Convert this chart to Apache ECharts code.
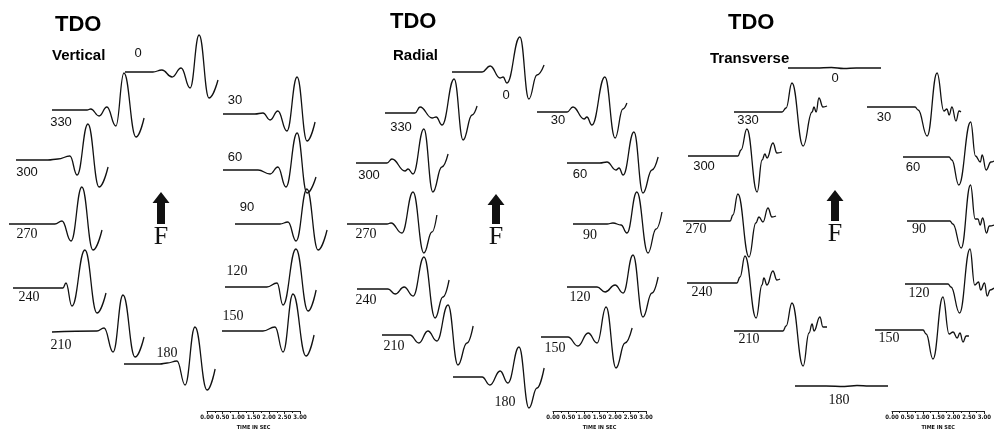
<!DOCTYPE html>
<html><head><meta charset="utf-8">
<script src="https://cdn.jsdelivr.net/npm/echarts@6/dist/echarts.min.js"></script>
<style>html,body{margin:0;padding:0;background:#fff}#c{width:994px;height:434px}</style>
</head><body><div id="c"></div>
<script>
// ---------- DATA (time in s, amplitude in arbitrary units) ----------
const azimuths = [0, 30, 60, 90, 120, 150, 180, 210, 240, 270, 300, 330];
const panelTitles = ['TDO', 'TDO', 'TDO'];
const componentNames = ['Vertical', 'Radial', 'Transverse'];
const scaleTicks = [0, 0.5, 1, 1.5, 2, 2.5, 3];
const scaleName = 'TIME IN SEC';

// Vertical component
const V0   = [[0,0],[0.9,0],[1.19,2],[1.52,-5],[1.81,4],[2.1,-16],[2.39,37],[2.71,-26],[3.0,-8]];
const V30  = [[0,0],[1.03,0],[1.29,1],[1.52,-6],[1.77,3],[2.06,-17],[2.39,37],[2.71,-27],[2.97,-8]];
const V60  = [[0,0],[1.13,0],[1.52,-4],[1.77,3],[2.03,-17],[2.39,37],[2.71,-23],[3.0,-7]];
const V90  = [[0,0],[1.45,0],[1.71,2],[1.97,-17],[2.32,35],[2.68,-26],[2.97,-6]];
const V120 = [[0,0],[1.35,0],[1.68,4],[1.87,-18],[2.29,38],[2.68,-24],[2.94,-3]];
const V150 = [[0,0],[1.32,0],[1.71,4],[1.97,-21],[2.29,37],[2.71,-25],[2.97,-4]];
const V180 = [[0,0],[1.16,0],[1.39,1],[1.71,3],[1.97,-21],[2.29,37],[2.68,-26],[2.94,-5]];
const V210 = [[0,0],[1.45,1],[1.68,4],[1.97,-20],[2.29,37],[2.68,-25],[2.97,-5]];
const V240 = [[0,0],[1.61,0],[1.71,5],[1.9,-18],[2.32,38],[2.71,-25],[3.0,-5]];
const V270 = [[0,0],[1.48,0],[1.71,3],[2.0,-17],[2.35,37],[2.71,-26],[3.0,-6]];
const V300 = [[0,0],[1.03,0],[1.35,1],[1.74,4],[1.97,-15],[2.32,36],[2.68,-27],[2.97,-7]];
const V330 = [[0,0],[1.13,0],[1.25,1],[1.52,-6],[1.77,3],[2.06,-16],[2.32,37],[2.71,-27],[2.97,-8]];

// Radial component
const R0   = [[0,0],[0.97,0],[1.23,6],[1.55,-6],[1.65,-5],[1.77,-11],[2.19,35],[2.48,-27],[2.74,-3],[2.97,7]];
const R30  = [[0,0],[0.97,0],[1.16,5],[1.52,-7],[1.61,-5],[1.77,-13],[2.19,35],[2.52,-26],[2.77,3],[2.9,9]];
const R60  = [[0,0],[1.06,0],[1.29,1],[1.58,-7],[1.68,-5],[1.81,-12],[2.16,31],[2.45,-30],[2.74,-7],[2.94,6]];
const R90  = [[0,0],[1.1,0],[1.29,1],[1.55,-1],[1.74,-9],[2.06,32],[2.42,-29],[2.68,-5],[2.87,12]];
const R120 = [[0,0],[0.97,0],[1.23,-5],[1.55,2],[1.81,-6],[2.13,32],[2.45,-30],[2.74,-6],[2.94,10]];
const R150 = [[0,0],[0.87,0],[1.19,-9],[1.52,4],[1.81,-6],[2.1,30],[2.42,-31],[2.71,-6],[2.94,9]];
const R180 = [[0,0],[0.94,0],[1.19,-8],[1.52,6],[1.77,-6],[2.13,30],[2.45,-31],[2.71,-11],[2.94,9]];
const R210 = [[0,0],[0.9,0],[1.19,-8],[1.48,4],[1.77,-6],[2.13,30],[2.45,-30],[2.74,-8],[2.94,9]];
const R240 = [[0,0],[1.0,0],[1.23,-5],[1.52,2],[1.81,-7],[2.16,32],[2.52,-29],[2.77,-8],[2.97,9]];
const R270 = [[0,0],[1.29,0],[1.42,1],[1.77,-9],[2.13,32],[2.48,-29],[2.74,-8],[2.9,9]];
const R300 = [[0,0],[1.0,0],[1.16,4],[1.58,-8],[1.68,-6],[1.84,-11],[2.19,34],[2.48,-29],[2.77,-4],[2.97,9]];
const R330 = [[0,0],[0.97,0],[1.13,6],[1.52,-5],[1.65,-4],[1.84,-12],[2.23,34],[2.52,-27],[2.81,-2],[2.97,7]];

// Transverse component
const T0   = [[0,0],[0.9,0],[1.4,0.5],[1.8,-0.5],[2.2,0],[3.0,0]];
const T30  = [[0,0],[1.55,0],[1.65,-3],[1.94,-29],[2.26,34],[2.48,-4],[2.58,-2],[2.65,-8],[2.74,0],[2.87,-14],[2.97,-4],[3.03,-5]];
const T60  = [[0,0],[1.52,0],[1.61,-3],[1.84,-28],[2.23,35],[2.39,1],[2.55,-5],[2.61,2],[2.74,-13],[2.9,-5],[3.0,-4]];
const T90  = [[0,0],[1.48,0],[1.58,-3],[1.87,-27],[2.19,36],[2.35,2],[2.45,2],[2.52,-4],[2.61,3],[2.74,-12],[2.84,-5],[3.0,-4]];
const T120 = [[0,0],[1.45,0],[1.55,-3],[1.84,-29],[2.19,35],[2.35,-1],[2.48,2],[2.55,-6],[2.68,1],[2.77,-12],[2.87,-6],[3.0,-4]];
const T150 = [[0,0],[1.55,0],[1.65,-4],[1.87,-29],[2.19,33],[2.39,-4],[2.52,-2],[2.65,-8],[2.74,-3],[2.84,-12],[2.94,-6],[3.03,-6]];
const T180 = [[0,0],[1.0,0],[1.6,-0.5],[2.0,0.5],[2.4,0],[3.0,0]];
const T210 = [[0,0],[1.58,0],[1.68,5],[1.87,28],[2.23,-35],[2.42,-2],[2.52,7],[2.58,0],[2.77,14],[2.87,4],[3.0,4]];
const T240 = [[0,0],[1.61,0],[1.71,6],[1.87,27],[2.23,-35],[2.42,-2],[2.48,5],[2.58,-2],[2.77,12],[2.9,3],[3.0,4]];
const T270 = [[0,0],[1.52,0],[1.61,6],[1.77,27],[2.13,-36],[2.35,-2],[2.45,4],[2.58,-1],[2.74,13],[2.87,4],[3.0,5]];
const T300 = [[0,0],[1.61,0],[1.71,6],[1.9,27],[2.23,-36],[2.39,-4],[2.48,2],[2.55,-2],[2.74,13],[2.87,3],[3.03,4]];
const T330 = [[0,0],[1.55,0],[1.68,4],[1.87,29],[2.23,-34],[2.52,0],[2.58,5],[2.65,0],[2.74,14],[2.87,5],[3.0,6]];

const panelData = [
  [V0,V30,V60,V90,V120,V150,V180,V210,V240,V270,V300,V330],
  [R0,R30,R60,R90,R120,R150,R180,R210,R240,R270,R300,R330],
  [T0,T30,T60,T90,T120,T150,T180,T210,T240,T270,T300,T330]
];

// ---------- LAYOUT (pixels) ----------
const PX_PER_SEC = 31;
const traceOrigin = [ // [left, baseline y] per azimuth order
  [[125,72],[223,114],[223,170],[235,224],[225,287],[222,331],[124,364],[52,332],[13,288],[9,224],[16,160],[52,110]],
  [[452,72],[537,112],[567,163],[573,224],[567,287],[541,337],[453,377],[382,335],[357,289],[347,224],[356,163],[385,113]],
  [[788,68],[867,107],[903,157],[907,221],[905,284],[875,330],[795,388],[734,331],[687,283],[683,221],[688,156],[734,112]]
];
const labelPos = [
  [[138,53],[235,100],[235,157],[247,207],[237,271],[233,316],[167,353],[61,345],[29,297],[27,234],[27,172],[61,122]],
  [[506,95],[558,120],[580,174],[590,235],[580,297],[555,348],[505,402],[394,346],[366,300],[366,234],[369,175],[401,127]],
  [[835,78],[884,117],[913,167],[919,229],[919,293],[889,338],[839,400],[749,339],[702,292],[696,229],[704,166],[748,120]]
];
const titlePos = [[55,25],[390,22],[728,23]];
const subPos = [[52,56],[393,56],[710,59]];
const arrowPos = [[161,192,224],[496,194,224],[835,190,221]];
const scalePos = [[207,411],[553,411],[892,411]];

const grids = [], xAxes = [], yAxes = [], series = [], graphics = [];
const AMP = 50;
panelData.forEach((traces, p) => {
  traces.forEach((d, i) => {
    const [x0, by] = traceOrigin[p][i];
    const gi = grids.length;
    grids.push({left: x0, top: by - AMP, width: 3 * PX_PER_SEC, height: 2 * AMP});
    xAxes.push({type: 'value', gridIndex: gi, min: 0, max: 3, show: false});
    yAxes.push({type: 'value', gridIndex: gi, min: -AMP, max: AMP, show: false});
    series.push({
      type: 'line', xAxisIndex: gi, yAxisIndex: gi, data: d,
      showSymbol: false, smooth: 0.45, smoothMonotone: 'x', clip: false, silent: true,
      lineStyle: {color: '#111', width: 1.3}
    });
    const [lx, ly] = labelPos[p][i];
    const upper = [0, 30, 60, 300, 330].includes(azimuths[i]) || (p === 0 && azimuths[i] === 90);
    graphics.push({type: 'text', silent: true, style: {
      text: String(azimuths[i]), x: lx, y: ly, fill: '#111',
      font: upper ? '13px "Liberation Sans"' : '14px "Liberation Serif"',
      align: 'center', verticalAlign: 'middle', textAlign: 'center', textVerticalAlign: 'middle'
    }});
  });
  // scale bar
  const gi = grids.length;
  const [sx, sy] = scalePos[p];
  grids.push({left: sx, top: sy - 1, width: 3 * PX_PER_SEC, height: 1});
  xAxes.push({
    type: 'value', gridIndex: gi, min: scaleTicks[0], max: scaleTicks[scaleTicks.length - 1], interval: 0.5,
    axisLine: {lineStyle: {color: '#222', width: 1}},
    axisTick: {length: 3, lineStyle: {color: '#222'}},
    minorTick: {show: true, splitNumber: 2, length: 2, lineStyle: {color: '#222'}},
    splitLine: {show: false},
    axisLabel: {fontSize: 6, fontWeight: 'bold', fontFamily: 'DejaVu Sans Condensed', color: '#111', margin: 3,
      hideOverlap: false, showMinLabel: true, showMaxLabel: true,
      formatter: v => v.toFixed(2)},
    name: scaleName, nameLocation: 'middle', nameGap: 14,
    nameTextStyle: {fontSize: 5.5, fontWeight: 'bold', fontFamily: 'DejaVu Sans Condensed', color: '#111'}
  });
  yAxes.push({type: 'value', gridIndex: gi, show: false});
  // titles
  graphics.push({type: 'text', silent: true, style: {text: panelTitles[p], x: titlePos[p][0], y: titlePos[p][1],
    font: 'bold 22px "Liberation Sans"', fill: '#000', align: 'left', verticalAlign: 'middle', textAlign: 'left', textVerticalAlign: 'middle'}});
  graphics.push({type: 'text', silent: true, style: {text: componentNames[p], x: subPos[p][0], y: subPos[p][1],
    font: 'bold 15px "Liberation Sans"', fill: '#000', align: 'left', verticalAlign: 'middle', textAlign: 'left', textVerticalAlign: 'middle'}});
  // arrow F
  const [cx, ty, bt] = arrowPos[p];
  graphics.push({type: 'polygon', silent: true, shape: {points: [
    [cx, ty], [cx + 8.5, ty + 11], [cx + 4, ty + 11], [cx + 4, bt], [cx - 4, bt], [cx - 4, ty + 11], [cx - 8.5, ty + 11]
  ]}, style: {fill: '#111'}});
  graphics.push({type: 'text', silent: true, style: {text: 'F', x: cx, y: bt + 13,
    font: '26px "Liberation Serif"', fill: '#111', align: 'center', verticalAlign: 'middle', textAlign: 'center', textVerticalAlign: 'middle'}});
});

const chart = echarts.init(document.getElementById('c'), null, {renderer: 'canvas'});
chart.setOption({
  animation: false,
  backgroundColor: '#fff',
  grid: grids, xAxis: xAxes, yAxis: yAxes, series: series,
  graphic: graphics
});
</script></body></html>
